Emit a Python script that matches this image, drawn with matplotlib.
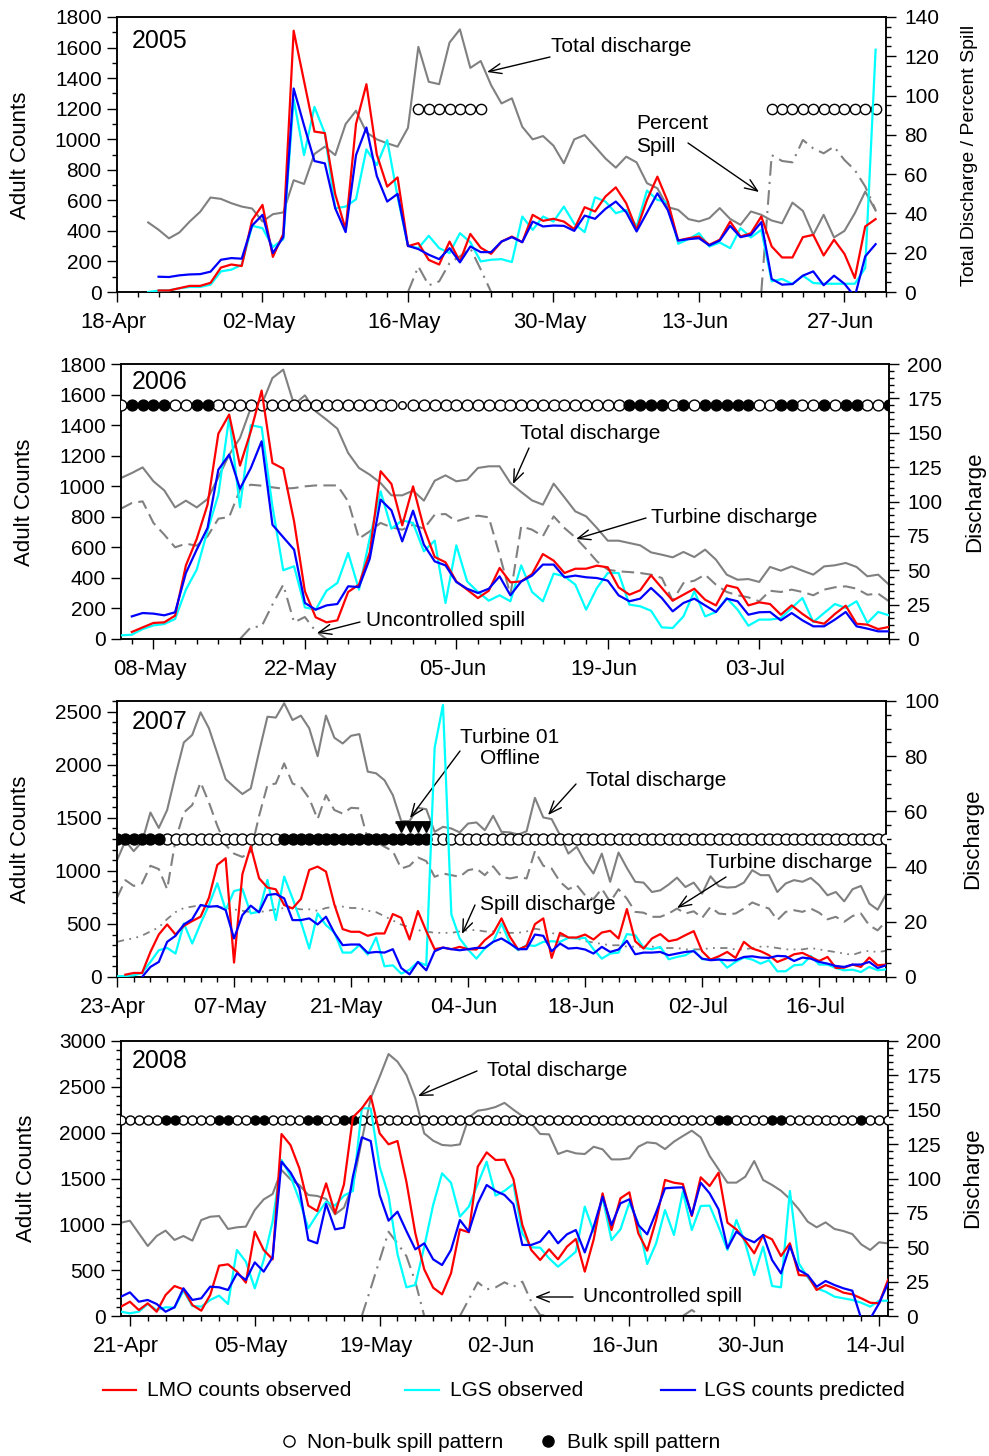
import numpy as np
import pandas as pd
import matplotlib
matplotlib.use("Agg")
import matplotlib.pyplot as plt
import matplotlib.dates as mdates
from matplotlib.ticker import FixedLocator, MultipleLocator
from matplotlib.lines import Line2D
from matplotlib.patches import FancyArrowPatch
from matplotlib.transforms import ScaledTranslation

plt.rcParams['font.family'] = ['Liberation Sans', 'DejaVu Sans']

# ====================== DATA ======================
# ---- 2005 (discharge/percent spill on right axis, counts on left) ----
total05_start = '2005-04-21'
total05 = [35.4, 31.7, 27.3, 30.3, 35.9, 40.8, 48.1, 47.4, 45.2, 43.5,
           42.5, 35.9, 39.6, 40.5, 56.9, 55.0, 70.3, 74.0, 69.7, 85.5,
           92.3, 81.3, 77.7, 75.7, 74.0, 83.6, 124.8, 107.0, 105.8, 127.0,
           133.7, 114.1, 117.6, 105.3, 96.0, 98.6, 84.1, 77.7, 79.4, 74.5,
           65.5, 77.7, 79.9, 74.0, 68.0, 63.3, 68.9, 66.0, 55.4, 52.8,
           43.2, 41.8, 37.1, 35.9, 37.6, 42.7, 37.2, 34.2, 41.0, 39.3,
           36.4, 35.0, 45.5, 41.3, 29.1, 39.3, 27.8, 31.1, 40.1, 51.1, 41.5]
pspill05_start = '2005-05-16'
pspill05 = [0, 13, 3.4, 5.4, 14.7, 18.1, 22.3, 11.5, 0,
            None, None, None, None, None, None, None, None, None, None,
            None, None, None, None, None, None, None, None, None, None,
            None, None, None, None, None,
            0, 69.7, 66.7, 66.0, 77.4, 73.1, 70.6, 74.0, 67.2, 62.1, 53.7, 41.8]
lmo05_start = '2005-04-22'
lmo05 = [10, 10, 25, 40, 40, 60, 160, 180, 170, 470,
         570, 230, 380, 1710, 1380, 1050, 1040, 640, 410, 1100,
         1360, 900, 690, 750, 300, 320, 210, 180, 330, 200,
         380, 290, 250, 330, 363, 326, 505, 466, 479, 461,
         411, 555, 527, 625, 685, 581, 407, 603, 755, 592,
         337, 352, 363, 309, 342, 461, 363, 385, 494, 298,
         226, 226, 359, 374, 239, 342, 250, 91, 429, 477]
pred05_start = '2005-04-22'
pred05 = [100, 98, 109, 115, 117, 133, 211, 222, 218, 435,
          505, 255, 359, 1332, 1090, 857, 842, 548, 392, 896,
          1077, 759, 592, 642, 302, 281, 244, 215, 287, 194,
          298, 261, 261, 330, 359, 326, 461, 429, 435, 433,
          400, 500, 479, 544, 592, 522, 396, 520, 646, 537,
          337, 346, 352, 305, 337, 433, 359, 374, 457, 85,
          48, 52, 107, 135, 44, 107, 54, -30, 233, 313]
lgs05_start = '2005-04-21'
lgs05 = [0, 9, 11, 24, 33, 33, 48, 135, 146, 178,
         433, 418, 294, 346, 1262, 896, 1212, 1038, 548, 559,
         607, 933, 831, 994, 624, 302, 287, 368, 287, 255,
         385, 326, 200, 211, 215, 196, 494, 407, 494, 461,
         559, 446, 392, 620, 592, 516, 537, 429, 664, 603,
         588, 316, 346, 385, 298, 324, 287, 418, 357, 407,
         70, 85, 52, 107, 59, 54, 54, 54, 54, 157, 1586]
# spill pattern codes: '.' none, '0' non-bulk, '1' bulk, '2' non-bulk (small)
pattern05_start = '2005-04-18'
pattern05 = ("..........""..........""........."
             "0000000"
             "..........""..........""......."
             "00000000000")

# ---- 2006 ----
total06_start = '2006-05-05'
total06 = [117.1, 120.7, 124.8, 114.7, 108.1, 95.7, 100.6, 95.7, 101.8,
           117.6, 134.0, 146.2, 168.0, 170.4, 189.8, 195.9, 170.4, 177.2, 165.6,
           159.5, 153.0, 135.3, 124.4, 119.5, 113.4, 104.5, 104.5, 107.9, 100.6,
           115.1, 119.0, 114.7, 115.9, 124.4, 125.6, 125.6, 113.4,
           106.9, 100.8, 97.7, 113.0, 103.0, 92.8, 89.2, 80.7, 71.5, 71.5,
           69.8, 68.1, 63.0, 61.3, 59.4, 63.3, 59.6, 65.0, 57.7, 46.8,
           43.1, 43.6, 41.5, 52.4, 49.7, 52.8, 49.7, 46.8, 52.8, 53.6,
           55.3, 52.4, 45.6, 46.8, 39.5]
turb06_start = '2006-05-05'
turb06 = [94.8, 98.9, 100.1, 84.4, 75.9, 66.7, 69.3, 67.9, 74.7,
          87.5, 88.7, 108.6, 112.2, 111.5, 110.3, 109.3, 109.8, 111.0, 111.7,
          111.7, 111.7, 100.1, 73.0, 78.3, 84.4, 81.2, 79.5, 83.1, 80.2,
          90.4, 90.9, 85.6, 88.0, 89.7, 88.5, 61.3, 32.2,
          81.9, 79.5, 74.7, 89.2, 80.7, 73.9, 65.5, 56.5, 50.4, 49.2,
          48.7, 48.0, 46.8, 44.4, 27.9, 40.7, 42.4, 46.8, 39.5, 34.2,
          31.8, 30.3, 27.4, 35.1, 34.2, 35.9, 34.2, 31.8, 35.9, 37.6,
          38.3, 36.6, 32.2, 33.0, 27.4]
uspill06_start = '2006-05-16'
uspill06 = [0, 8.5, 9.2, 25.0, 39.5, 12.1, 16.0, 5.6, 0]
lmo06_start = '2006-05-06'
lmo06 = [46, 76, 105, 109, 153, 482, 655, 879, 1344, 1469,
         1135, 1359, 1626, 1152, 1115, 770, 312, 142, 109, 122,
         308, 356, 567, 1098, 1015, 744, 999, 727, 537, 502,
         377, 323, 268, 316, 465, 371,
         377, 425, 556, 513, 432, 460, 460, 480, 469, 338,
         290, 319, 417, 334, 251, 290, 329, 257, 220, 351,
         334, 220, 240, 229, 159, 220, 164, 116, 100, 164,
         218, 100, 94, 65, 79]
pred06_start = '2006-05-06'
pred06 = [148, 170, 166, 155, 175, 432, 585, 727, 1108, 1207,
          984, 1119, 1294, 748, 666, 585, 236, 192, 220, 229,
          345, 340, 526, 912, 842, 639, 840, 618, 508, 482,
          373, 329, 301, 329, 410, 286,
          377, 415, 487, 487, 404, 415, 404, 399, 382, 286,
          247, 264, 334, 268, 181, 236, 264, 220, 177, 264,
          247, 159, 175, 177, 122, 170, 122, 83, 83, 127,
          177, 83, 68, 50, 50]
lgs06_start = '2006-05-05'
lgs06 = [24, 28, 65, 89, 98, 131, 323, 454, 709, 945,
         1451, 862, 1399, 1386, 868, 450, 476, 207, 192, 316,
         367, 563, 323, 661, 967, 722, 777, 759, 574, 644,
         236, 613, 377, 308, 251, 286, 247,
         482, 308, 247, 428, 410, 356, 192, 334, 432, 432,
         225, 214, 185, 76, 72, 148, 312, 148, 177, 268,
         192, 87, 127, 127, 137, 203, 268, 111, 170, 229,
         203, 247, 105, 177, 155]
pattern06_start = '2006-05-05'
pattern06 = ("011110011"
             "00000000000000000"
             "2"
             "00000000000000000000"
             "1111010111110011001011001")

# ---- 2007 ----
total07_start = '2007-04-23'
total07 = [42.3, 49.3, 45.6, 49.0, 59.6, 54.0, 60.5, 73.2, 85.0, 87.7,
           95.9, 90.1, 81.0, 71.7, 68.9, 66.3, 68.3, 81.6, 94.3, 94.0,
           99.2, 93.1, 94.7, 90.1, 80.0, 94.7, 86.7, 84.6, 87.4, 88.0,
           74.4, 73.8, 71.3, 65.9, 56.5, 56.5, 61.3, 60.8, 52.6, 54.4,
           53.8, 52.4, 55.6, 56.0, 53.2, 58.4, 52.6, 52.4, 51.6, 52.8,
           64.9, 57.8, 57.2, 51.4, 44.7, 47.2, 41.7, 37.5, 44.7, 34.5,
           45.1, 39.5, 34.5, 34.2, 30.8, 31.4, 33.5, 36.0, 32.6, 34.2,
           30.2, 36.5, 32.9, 32.4, 32.6, 34.2, 38.7, 36.9, 36.9, 30.8,
           33.9, 35.1, 34.5, 35.9, 33.3, 29.6, 30.8, 27.4, 31.8, 33.0,
           26.6, 24.4, 29.9]
turb07_start = '2007-04-23'
turb07 = [28.7, 35.1, 33.0, 33.9, 40.3, 39.1, 31.8, 49.6, 59.6, 62.3,
          70.5, 63.2, 54.8, 47.8, 44.7, 43.5, 45.3, 58.4, 69.5, 70.1,
          77.4, 70.1, 68.9, 64.7, 57.2, 65.9, 60.5, 59.2, 61.3, 61.1,
          49.9, 49.0, 47.2, 45.6, 39.3, 40.3, 43.3, 42.0, 36.3, 37.5,
          36.9, 36.3, 38.7, 39.3, 36.9, 40.1, 36.3, 35.7, 36.3, 35.7,
          45.6, 40.3, 39.3, 34.5, 31.8, 33.3, 29.6, 28.2, 32.0, 27.2,
          31.8, 28.4, 23.6, 23.3, 21.8, 21.8, 23.0, 24.8, 23.0, 23.8,
          21.4, 25.4, 23.0, 22.7, 23.0, 24.8, 27.0, 25.8, 24.8, 20.6,
          23.6, 24.2, 23.6, 24.8, 23.3, 20.9, 21.8, 20.0, 22.1, 23.0,
          18.7, 16.9, 20.2]
spill07_start = '2007-04-23'
spill07 = [12.7, 13.5, 14.0, 15.0, 16.5, 18.0, 21.0, 23.5, 25.0, 25.5,
           26.0, 26.0, 25.5, 25.0, 24.5, 24.0, 23.5, 23.5, 24.0, 24.5,
           25.0, 25.0, 24.5, 24.5, 24.0, 25.0, 25.5, 25.5, 25.0, 25.0,
           24.0, 23.5, 22.0, 20.5, 19.0, 18.0, 17.0, 16.5, 16.0, 16.0,
           16.0, 16.5, 17.0, 17.0, 16.5, 16.5, 16.0, 16.0, 16.0, 16.5,
           17.5, 17.0, 16.0, 15.0, 14.5, 14.0, 13.0, 12.5, 12.0, 11.5,
           11.5, 11.0, 11.0, 11.0, 11.0, 10.5, 10.5, 10.5, 10.0, 10.0,
           10.0, 10.5, 10.5, 10.5, 10.0, 10.0, 10.5, 11.0, 11.0, 10.5,
           10.0, 10.0, 10.0, 10.5, 10.0, 9.5, 9.0, 8.5, 8.0, 9.0,
           9.5, 9.0, 9.5]
lmo07_start = '2007-04-24'
lmo07 = [22, 38, 38, 236, 400, 495, 400, 482, 527,
         568, 747, 1056, 1119, 136, 968, 1230, 930, 842, 826,
         678, 646, 735, 1009, 1040, 993, 684, 451, 426, 426,
         388, 410, 410, 593, 558, 353, 621, 432, 262, 277,
         262, 284, 262, 259, 347, 410, 552, 380, 259, 293,
         498, 552, 180, 416, 372, 372, 400, 353, 419, 435,
         363, 640, 337, 268, 363, 404, 337, 353, 394, 432,
         243, 164, 195, 236, 180, 331, 268, 243, 205, 142,
         173, 214, 227, 189, 151, 189, 85, 88, 117, 95,
         183, 110, 117]
pred07_start = '2007-04-26'
pred07 = [0, 95, 142, 331, 388, 495, 545,
          678, 662, 668, 631, 363, 583, 672, 609, 773, 782,
          741, 536, 536, 552, 495, 568, 416, 300, 306, 306,
          227, 236, 230, 262, 85, 25, 142, 63, 243, 277,
          262, 252, 262, 274, 274, 331, 363, 315, 262, 262,
          400, 388, 243, 315, 268, 274, 259, 221, 284, 236,
          259, 341, 214, 230, 230, 236, 205, 221, 236, 243,
          173, 158, 164, 158, 158, 189, 195, 183, 180, 199,
          195, 151, 183, 173, 142, 126, 104, 95, 117, 117,
          142, 85, 110]
lgs07_start = '2007-04-23'
lgs07 = [6, 9, 16, 38, 142, 252, 274, 221, 504, 315,
         504, 678, 883, 631, 810, 829, 599, 615, 914, 536,
         946, 741, 520, 268, 599, 489, 419, 230, 230, 300,
         211, 372, 101, 110, 32, 69, 142, 110, 2160, 2563,
         590, 363, 259, 173, 268, 331, 504, 322, 252, 300,
         293, 331, 337, 331, 369, 363, 369, 262, 173, 221,
         230, 404, 394, 274, 262, 284, 167, 189, 205, 252,
         167, 167, 173, 88, 142, 183, 164, 126, 158, 54,
         54, 110, 117, 199, 117, 117, 85, 63, 69, 47,
         95, 63, 72]
pattern07_start = '2007-04-23'
pattern07 = ("111111"
             "00000000000000"
             "111111111111111111"
             "0000000000""0000000000""0000000000""0000000000""0000000000""00000")
offline07_start = '2007-05-27'
offline07 = [54.2, 54.2, 54.2, 54.2]

# ---- 2008 ----
total08_start = '2008-04-20'
total08 = [67.9, 69.3, 60.1, 50.9, 58.2, 62.1, 55.3, 58.2, 54.8, 69.8, 72.2,
           72.7, 63.3, 64.5, 65.0, 77.1, 84.8, 88.7, 106.2, 99.4, 95.3,
           88.0, 87.3, 85.1, 73.9, 78.8, 95.3, 128.0, 158.3, 174.0, 190.5,
           185.0, 175.3, 158.3, 132.8, 127.5, 124.4, 123.9, 124.8, 144.5, 149.3,
           150.3, 152.0, 155.0, 150.0, 145.4, 140.1, 132.4, 132.1, 117.8, 120.2,
           118.3, 117.8, 123.1, 121.2, 113.9, 113.9, 114.7, 123.1, 126.3, 125.6,
           121.4, 126.8, 130.9, 134.8, 129.9, 116.4, 106.7, 97.0, 97.0, 101.3,
           112.7, 98.9, 95.3, 91.1, 85.1, 77.6, 68.6, 64.5, 68.1, 63.3,
           61.8, 59.6, 52.1, 48.0, 53.6, 52.8]
uspill08_start = '2008-05-17'
uspill08 = [0, 20.1, 40.7, 61.3, 52.8, 43.6, 25.0, 0, None, None, None,
            0, 12.1, 24.5, 19.4, 20.8, 24.5, 21.3, 25.0, 10.4, 0.7, 0,
            None, None, None, None, None, None, None, None, None, None,
            None, None, None, None, 0, 4.4, 0]
lmo08_start = '2008-04-20'
lmo08 = [102, 156, 65, 138, 47, 229, 327, 291, 120, 58, 229,
         549, 564, 484, 364, 920, 720, 618, 1985, 1865, 1611,
         1204, 1145, 1447, 1120, 1436, 2167, 2265, 2400, 1993, 1873,
         1909, 1465, 902, 509, 309, 236, 465, 945, 913, 1629,
         1785, 1702, 1705, 1494, 993, 720, 611, 727, 618, 756,
         840, 484, 836, 1338, 938, 1284, 1349, 902, 713, 1047,
         1484, 1454, 1440, 1091, 1513, 1418, 1563, 1018, 945, 822,
         684, 884, 836, 654, 793, 447, 440, 284, 338, 302,
         255, 236, 193, 145, 138, 393]
pred08_start = '2008-04-20'
pred08 = [211, 258, 156, 175, 131, 47, 95, 302, 175, 193, 320,
          313, 284, 465, 393, 585, 484, 640, 1683, 1567, 1393,
          829, 793, 1222, 945, 964, 1520, 1949, 1909, 1320, 1040,
          1138, 927, 727, 793, 618, 556, 720, 1047, 920, 1229,
          1429, 1364, 1320, 1220, 775, 775, 811, 927, 793, 891,
          938, 694, 974, 1302, 993, 1229, 1273, 993, 891, 1131,
          1393, 1400, 1404, 1102, 1454, 1338, 1164, 738, 920, 847,
          804, 884, 611, 465, 764, 502, 447, 320, 382, 338,
          302, 276, -30, -30, 138, 356]
lgs08_start = '2008-04-20'
lgs08 = [47, 29, 47, 131, 65, 95, 91, 276, 109, 102, 175,
         222, 131, 720, 593, 302, 611, 1029, 1702, 1527, 1265,
         956, 1109, 1247, 1204, 1313, 1364, 2265, 2265, 1629, 1313,
         676, 313, 338, 756, 1211, 1556, 1454, 1084, 1193, 1440,
         1683, 1313, 1365, 1440, 902, 749, 745, 629, 538, 618,
         702, 1193, 920, 1291, 829, 945, 1236, 1011, 567, 793,
         1156, 884, 1356, 938, 1200, 1204, 974, 720, 1047, 793,
         447, 756, 327, 313, 1364, 575, 422, 302, 265, 211,
         193, 175, 145, 102, 167, 167]
pattern08_start = '2008-04-20'
pattern08 = ("00000110000110011000011001"
             "1"
             "0000000000""0000000000""0000000000""0000000000"
             "11000011000000001000")

years = ['2005', '2006', '2007', '2008']
legend_labels = ['LMO counts observed', 'LGS observed', 'LGS counts predicted']
pattern_labels = ['Non-bulk spill pattern', 'Bulk spill pattern']

# ====================== STYLE / LAYOUT ======================
W, H = 989, 1456
RED, CYAN, BLUE, GRAY = '#FF0000', '#00FFFF', '#0000FF', '#808080'
YTICK_FS = 15
XTICK_FS = 15.8
LAB_FS = 16
ANN_FS = 15

fig = plt.figure(figsize=(W / 100, H / 100), dpi=100)


def fp(x, y):
    return x / W, 1 - y / H


def dnum(start, n):
    return mdates.date2num(pd.date_range(start, periods=n, freq='D').to_pydatetime())


def arr(v):
    return np.array([np.nan if a is None else a for a in v], dtype=float)


def make_panel(box, xlim, majors, yl, yl_maj, yl_min, yr, yr_maj, yr_min):
    l, t, r, b = box
    ax = fig.add_axes([l / W, 1 - b / H, (r - l) / W, (b - t) / H])
    ax2 = ax.twinx()
    ax.set_zorder(ax2.get_zorder() + 1)
    ax.patch.set_visible(False)
    x0 = mdates.date2num(pd.Timestamp(xlim[0]).to_pydatetime())
    x1 = mdates.date2num(pd.Timestamp(xlim[1]).to_pydatetime())
    ax.set_xlim(x0, x1)
    mj = mdates.date2num(pd.to_datetime(majors).to_pydatetime())
    ax.xaxis.set_major_locator(FixedLocator(mj))
    ax.xaxis.set_major_formatter(mdates.DateFormatter('%d-%b'))
    first = mj[0] - 2 * np.floor((mj[0] - x0) / 2)
    ax.xaxis.set_minor_locator(FixedLocator(np.arange(first, x1 + 0.001, 2)))
    ax.set_ylim(*yl)
    ax.yaxis.set_major_locator(MultipleLocator(yl_maj))
    if yl_min:
        ax.yaxis.set_minor_locator(MultipleLocator(yl_min))
    ax2.set_ylim(*yr)
    ax2.yaxis.set_major_locator(MultipleLocator(yr_maj))
    ax2.yaxis.set_minor_locator(MultipleLocator(yr_min))
    for a in (ax, ax2):
        for s in a.spines.values():
            s.set_linewidth(1.1)
    ax.tick_params(axis='both', which='major', direction='out', length=7, width=1.0,
                   labelsize=YTICK_FS, pad=4, top=False, right=False)
    ax.tick_params(axis='both', which='minor', direction='out', length=3.5, width=1.0,
                   top=False, right=False)
    ax.tick_params(axis='x', which='major', pad=7.5, labelsize=XTICK_FS)
    ax2.tick_params(axis='y', which='major', direction='out', length=7, width=1.0,
                    labelsize=YTICK_FS, pad=6)
    ax2.tick_params(axis='y', which='minor', direction='out', length=3.5, width=1.0)
    shift = ScaledTranslation(-4 / 100, 0, fig.dpi_scale_trans)
    for lab in ax.get_xticklabels():
        lab.set_transform(lab.get_transform() + shift)
    return ax, ax2


def plot_counts(ax, lmo, lmo_s, lgs, lgs_s, pred, pred_s):
    ax.plot(dnum(lgs_s, len(lgs)), arr(lgs), color=CYAN, lw=1.6, zorder=4)
    ax.plot(dnum(lmo_s, len(lmo)), arr(lmo), color=RED, lw=1.6, zorder=5)
    ax.plot(dnum(pred_s, len(pred)), arr(pred), color=BLUE, lw=1.6, zorder=6)


def plot_pattern(ax, pattern, start, level, ms):
    x = dnum(start, len(pattern))
    codes = np.array(list(pattern))
    for code, fc, size in (('0', 'white', ms), ('1', 'black', ms), ('2', 'white', ms * 0.7)):
        m = codes == code
        if m.any():
            ax.plot(x[m], np.full(m.sum(), level), ls='none', marker='o', ms=size,
                    mfc=fc, mec='black', mew=1.0, zorder=3)


def note(text, tx, ty, tail=None, tip=None, ha='left', size=ANN_FS, ls=1.2):
    fig.text(*fp(tx, ty), text, ha=ha, va='center', fontsize=size, linespacing=ls)
    if tail is not None:
        fig.add_artist(FancyArrowPatch(fp(*tail), fp(*tip), transform=fig.transFigure,
                                       arrowstyle='->,head_length=0.75,head_width=0.3',
                                       mutation_scale=12, lw=1.0, color='black',
                                       shrinkA=0, shrinkB=0))


def side_labels(ycenter, xl, xr, rtext, rsize):
    fig.text(*fp(xl, ycenter), 'Adult Counts', rotation=90, ha='center', va='center', fontsize=LAB_FS)
    fig.text(*fp(xr, ycenter), rtext, rotation=90, ha='center', va='center', fontsize=rsize)


dash_turb = (0, (6, 3))
dash_spill = (0, (7, 3, 1, 3))
dash_spill07 = (0, (4, 3, 1, 3, 1, 3))

# ---------------- Panel 2005 ----------------
ax, ax2 = make_panel((117, 17, 886, 292), ('2005-04-18', '2005-07-01'),
                     ['2005-04-18', '2005-05-02', '2005-05-16', '2005-05-30', '2005-06-13', '2005-06-27'],
                     (0, 1800), 200, 100, (0, 140), 20, 5)
ax2.plot(dnum(total05_start, len(total05)), arr(total05), color=GRAY, lw=1.5)
ax2.plot(dnum(pspill05_start, len(pspill05)), arr(pspill05), color=GRAY, lw=1.5, ls=dash_spill)
plot_pattern(ax, pattern05, pattern05_start, 1200, 7.4)
plot_counts(ax, lmo05, lmo05_start, lgs05, lgs05_start, pred05, pred05_start)
fig.text(*fp(132, 29), years[0], fontsize=18, ha='left', va='top')
side_labels(155, 21, 969, 'Total Discharge / Percent Spill', 14)
note('Total discharge', 551, 47, (550, 57), (487, 72))
note('Percent\nSpill', 636, 135, (688, 143), (759, 192), ls=1.3)

# ---------------- Panel 2006 ----------------
ax, ax2 = make_panel((121, 364, 889, 639), ('2006-05-05', '2006-07-15'),
                     ['2006-05-08', '2006-05-22', '2006-06-05', '2006-06-19', '2006-07-03'],
                     (0, 1800), 200, None, (0, 200), 25, 5)
ax2.plot(dnum(total06_start, len(total06)), arr(total06), color=GRAY, lw=1.5)
ax2.plot(dnum(turb06_start, len(turb06)), arr(turb06), color=GRAY, lw=1.5, ls=dash_turb)
ax2.plot(dnum(uspill06_start, len(uspill06)), arr(uspill06), color=GRAY, lw=1.5, ls=dash_spill)
plot_pattern(ax, pattern06, pattern06_start, 1530, 7.8)
plot_counts(ax, lmo06, lmo06_start, lgs06, lgs06_start, pred06, pred06_start)
fig.text(*fp(132, 370), years[1], fontsize=18, ha='left', va='top')
side_labels(502, 25, 975, 'Discharge', LAB_FS)
note('Total discharge', 520, 433, (529, 448), (513, 484))
note('Turbine discharge', 651, 517, (646, 518), (576, 539))
note('Uncontrolled spill', 366, 620, (360, 622), (317, 633))

# ---------------- Panel 2007 ----------------
ax, ax2 = make_panel((117, 701, 886, 977), ('2007-04-23', '2007-07-24'),
                     ['2007-04-23', '2007-05-07', '2007-05-21', '2007-06-04', '2007-06-18', '2007-07-02', '2007-07-16'],
                     (0, 2600), 500, 100, (0, 100), 20, 5)
ax2.plot(dnum(total07_start, len(total07)), arr(total07), color=GRAY, lw=1.5)
ax2.plot(dnum(turb07_start, len(turb07)), arr(turb07), color=GRAY, lw=1.5, ls=dash_turb)
ax2.plot(dnum(spill07_start, len(spill07)), arr(spill07), color=GRAY, lw=1.3, ls=dash_spill07)
xo = dnum(offline07_start, len(offline07))
ax2.plot(xo, offline07, ls='none', marker='v', ms=7, mfc='black', mec='black', zorder=5)
ax2.hlines(max(offline07) + 1.8, xo[0] - 0.7, xo[-1] + 0.7, color='black', lw=2, zorder=5)
plot_pattern(ax, pattern07, pattern07_start, 1300, 7.9)
plot_counts(ax, lmo07, lmo07_start, lgs07, lgs07_start, pred07, pred07_start)
fig.text(*fp(132, 710), years[2], fontsize=18, ha='left', va='top')
side_labels(839, 21, 973, 'Discharge', LAB_FS)
note('Turbine 01\nOffline', 510, 748, (460, 751), (410, 818), ha='center', ls=1.15)
note('Total discharge', 586, 780, (576, 784), (548, 815))
note('Turbine discharge', 706, 862, (726, 877), (677, 908))
note('Spill discharge', 480, 905, (475, 905), (462, 934))

# ---------------- Panel 2008 ----------------
ax, ax2 = make_panel((121, 1041, 888, 1316), ('2008-04-20', '2008-07-15'),
                     ['2008-04-21', '2008-05-05', '2008-05-19', '2008-06-02', '2008-06-16', '2008-06-30', '2008-07-14'],
                     (0, 3000), 500, 100, (0, 200), 25, 5)
ax2.plot(dnum(total08_start, len(total08)), arr(total08), color=GRAY, lw=1.5)
ax2.plot(dnum(uspill08_start, len(uspill08)), arr(uspill08), color=GRAY, lw=1.5, ls=dash_spill)
plot_pattern(ax, pattern08, pattern08_start, 2140, 6.5)
plot_counts(ax, lmo08, lmo08_start, lgs08, lgs08_start, pred08, pred08_start)
fig.text(*fp(132, 1049), years[3], fontsize=18, ha='left', va='top')
side_labels(1178, 27, 973, 'Discharge', LAB_FS)
note('Total discharge', 487, 1070, (477, 1071), (418, 1096))
note('Uncontrolled spill', 583, 1296, (573, 1297), (535, 1297))

# ---------------- Legend ----------------
for (x0, x1, xt), col, lab in zip([(103, 136, 147), (405, 439, 450), (661, 695, 704)],
                                  [RED, CYAN, BLUE], legend_labels):
    fig.add_artist(Line2D([x0 / W, x1 / W], [1 - 1390 / H] * 2, color=col, lw=1.6,
                          transform=fig.transFigure))
    fig.text(*fp(xt, 1390), lab, ha='left', va='center', fontsize=ANN_FS)
for (xm, xt), fc, lab in zip([(289, 307), (548, 567)], ['white', 'black'], pattern_labels):
    fig.add_artist(Line2D([xm / W], [1 - 1441 / H], ls='none', marker='o', ms=8,
                          mfc=fc, mec='black', mew=1.0, transform=fig.transFigure))
    fig.text(*fp(xt, 1442), lab, ha='left', va='center', fontsize=ANN_FS)

fig.savefig('out.png', dpi=100)
